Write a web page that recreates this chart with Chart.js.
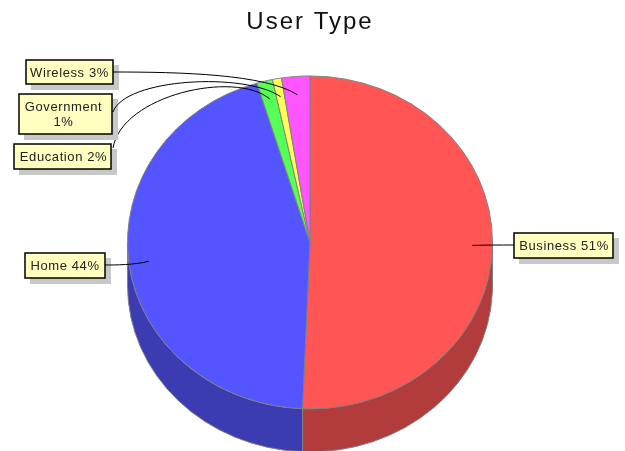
<!DOCTYPE html>
<html>
<head>
<meta charset="utf-8">
<title>User Type</title>
<style>
  html, body { margin: 0; padding: 0; background: #fff; }
  canvas { display: block; }
</style>
<script src="https://cdn.jsdelivr.net/npm/chart.js@4"></script>
</head>
<body>
<canvas id="grafico" width="625" height="451"></canvas>
<script>
const categories = ["Business", "Home", "Education", "Government", "Wireless"];
const values = [50.7, 44.7, 1.4, 0.8, 2.5];
const percentLabels = ["51%", "44%", "2%", "1%", "3%"];
const faceColors = ["#ff5555", "#5555ff", "#55ff55", "#ffff55", "#ff55ff"];
const sideColors = ["#b23b3b", "#3b3bb2", "#3bb23b", "#b2b23b", "#b23bb2"];

const squash = 166 / 182;
const depth = 43;
const edgeColor = "#808080";
const labelFont = '13px "Liberation Sans", Arial, sans-serif';

// box = x, y, w, h; c1/c2 are the curve control points, from = where the line leaves the box
const callouts = [
  { box: [514, 233, 99, 25], lines: ["Business 51%"], dx: 0.5, from: [514, 245], c1: [500, 245], c2: [485, 245] },
  { box: [25, 253, 80, 25], lines: ["Home 44%"], dx: 0, from: [105, 265], c1: [115, 265], c2: [135, 265] },
  { box: [14, 144, 97, 25], lines: ["Education 2%"], dx: 1, from: [113, 148], c1: [122, 95], c2: [235, 70] },
  { box: [19, 94, 93, 40], lines: ["Government", "1%"], dx: -2, from: [113, 112], c1: [125, 78], c2: [245, 72] },
  { box: [26, 60, 87, 24], lines: ["Wireless 3%"], dx: 0, from: [113, 72], c1: [180, 72], c2: [265, 74] }
];

const pie3d = {
  id: "pie3d",
  beforeDraw(chart) {
    chart.ctx.letterSpacing = "2px";
  },
  beforeDatasetsDraw(chart) {
    const ctx = chart.ctx;
    const arcs = chart.getDatasetMeta(0).data;
    const cx = arcs[0].x, cy = arcs[0].y, r = arcs[0].outerRadius;

    // side wall first, then the top face over it
    arcs.forEach((arc, i) => {
      const a = Math.max(arc.startAngle, 0);
      const b = Math.min(arc.endAngle, Math.PI);
      if (a >= b) return;
      ctx.beginPath();
      ctx.ellipse(cx, cy, r, r * squash, 0, a, b);
      ctx.ellipse(cx, cy + depth, r, r * squash, 0, b, a, true);
      ctx.closePath();
      ctx.fillStyle = sideColors[i];
      ctx.fill();
      ctx.strokeStyle = edgeColor;
      ctx.lineWidth = 1;
      ctx.stroke();
    });

    ctx.save();
    ctx.translate(cx, cy);
    ctx.scale(1, squash);
    ctx.translate(-cx, -cy);
  },
  afterDatasetsDraw(chart) {
    const ctx = chart.ctx;
    ctx.restore();
    ctx.letterSpacing = "0.6px";

    const arcs = chart.getDatasetMeta(0).data;
    callouts.forEach((c, i) => {
      const arc = arcs[i];
      const mid = (arc.startAngle + arc.endAngle) / 2;
      const px = arc.x + Math.cos(mid) * arc.outerRadius * 0.89;
      const py = arc.y + Math.sin(mid) * arc.outerRadius * 0.89 * squash;
      const [x, y, w, h] = c.box;

      ctx.fillStyle = "#c8c8c8";
      ctx.fillRect(x + 5, y + 5, w + 1, h + 1);

      ctx.beginPath();
      ctx.moveTo(c.from[0], c.from[1]);
      ctx.bezierCurveTo(c.c1[0], c.c1[1], c.c2[0], c.c2[1], px, py);
      ctx.strokeStyle = "#000";
      ctx.lineWidth = 1;
      ctx.stroke();

      ctx.fillStyle = "#ffffc0";
      ctx.fillRect(x, y, w, h);
      ctx.strokeStyle = "#000";
      ctx.lineWidth = 1.5;
      ctx.strokeRect(x, y, w, h);

      ctx.fillStyle = "#222";
      ctx.font = labelFont;
      ctx.textAlign = "center";
      ctx.textBaseline = "middle";
      const lineGap = 15;
      const top = y + h / 2 + 1 - (c.lines.length - 1) * lineGap / 2;
      c.lines.forEach((t, n) => ctx.fillText(t, x + w / 2 + c.dx, top + n * lineGap));
    });
  }
};

new Chart(document.getElementById("grafico"), {
  type: "pie",
  data: {
    labels: categories.map((c, i) => c + " " + percentLabels[i]),
    datasets: [{
      data: values,
      backgroundColor: faceColors,
      borderColor: edgeColor,
      borderWidth: 1
    }]
  },
  options: {
    responsive: false,
    animation: false,
    devicePixelRatio: 1,
    layout: { padding: { left: 127, right: 132, top: 8, bottom: 25 } },
    plugins: {
      legend: { display: false },
      tooltip: { enabled: false },
      title: {
        display: true,
        text: "User Type",
        color: "#111",
        font: { family: '"Liberation Sans", Arial, sans-serif', size: 24, weight: "normal" },
        padding: { top: 0, bottom: 22 }
      }
    }
  },
  plugins: [pie3d]
});
</script>
</body>
</html>
